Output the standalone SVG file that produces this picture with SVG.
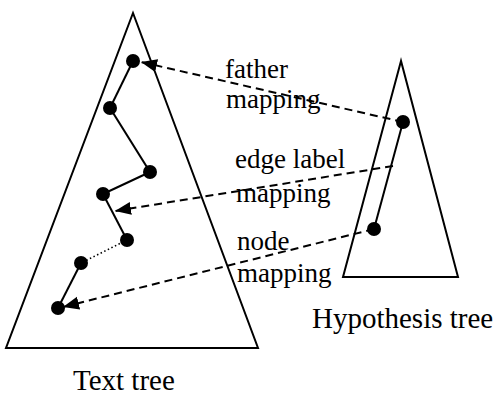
<svg xmlns="http://www.w3.org/2000/svg" width="496" height="397" viewBox="0 0 496 397">
<style>
.tri{fill:none;stroke:#000;stroke-width:2}
.edge{stroke:#000;stroke-width:2;fill:none}
.dot{stroke:#000;stroke-width:1.6;stroke-dasharray:1.5 2.5;fill:none}
.map{stroke:#000;stroke-width:2;fill:none;stroke-dasharray:8 5;marker-end:url(#ah)}
.node{fill:#000}
.lbl{font-size:27px}
.ttl{font-size:29px}
</style>
<defs>
<marker id="ah" markerUnits="userSpaceOnUse" markerWidth="18" markerHeight="14" refX="16" refY="6.5" orient="auto">
<path d="M0,0 L16,6.5 L0,13 z" fill="#000"/>
</marker>
</defs>
<g id="text-tree">
<path class="tri" d="M133,13 L6,348 L258,348 Z"/>
<text class="ttl" x="73" y="390" font-family="Liberation Serif, Times New Roman, DejaVu Serif, serif">Text tree</text>
</g>
<g id="hypothesis-tree">
<path class="tri" d="M401,61 L343,277 L458,277 Z"/>
<text class="ttl" x="312" y="328" font-family="Liberation Serif, Times New Roman, DejaVu Serif, serif">Hypothesis tree</text>
</g>
<g id="connectors">
<line class="edge" x1="133" y1="61" x2="110" y2="108"/>
<line class="edge" x1="110" y1="108" x2="150" y2="172"/>
<line class="edge" x1="150" y1="172" x2="103" y2="194"/>
<line class="edge" x1="103" y1="194" x2="127" y2="240"/>
<line class="dot" x1="127" y1="240" x2="81" y2="263"/>
<line class="edge" x1="81" y1="263" x2="58" y2="308"/>
<line class="edge" x1="403" y1="122" x2="374" y2="229"/>
<line class="map" x1="403" y1="122" x2="141" y2="62"/>
<line class="map" x1="393" y1="166" x2="115" y2="211"/>
<line class="map" x1="374" y1="229" x2="63" y2="307"/>
</g>
<g id="t1"><circle class="node" cx="133" cy="61" r="7"/></g>
<g id="t2"><circle class="node" cx="110" cy="108" r="7"/></g>
<g id="t3"><circle class="node" cx="150" cy="172" r="7"/></g>
<g id="t4"><circle class="node" cx="103" cy="194" r="7"/></g>
<g id="t5"><circle class="node" cx="127" cy="240" r="7"/></g>
<g id="t6"><circle class="node" cx="81" cy="263" r="7"/></g>
<g id="t7"><circle class="node" cx="58" cy="308" r="7"/></g>
<g id="h1"><circle class="node" cx="403" cy="122" r="7"/></g>
<g id="h2"><circle class="node" cx="374" cy="229" r="7"/></g>
<g id="labels" font-family="Liberation Serif, Times New Roman, DejaVu Serif, serif">
<text class="lbl" x="225" y="78">father</text>
<text class="lbl" x="226" y="108">mapping</text>
<text class="lbl" x="235" y="168">edge label</text>
<text class="lbl" x="236" y="202">mapping</text>
<text class="lbl" x="237" y="250">node</text>
<text class="lbl" x="237" y="282">mapping</text>
</g>
</svg>
